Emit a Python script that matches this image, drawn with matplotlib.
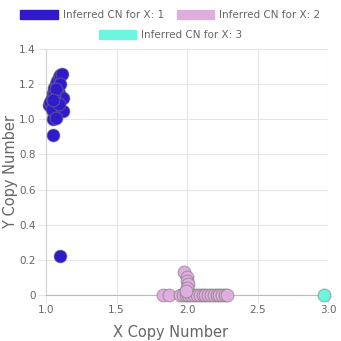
import matplotlib.pyplot as plt
from matplotlib.patches import Patch
from matplotlib.ticker import FuncFormatter

# copy-number calls, grouped by inferred CN for X
cn1_x = [1.02, 1.03, 1.04, 1.05, 1.06, 1.07, 1.08, 1.09, 1.10, 1.11,
         1.05, 1.06, 1.07, 1.08, 1.06, 1.05, 1.07, 1.04, 1.09, 1.08,
         1.10, 1.12, 1.12, 1.06, 1.07, 1.09, 1.05, 1.07, 1.05, 1.10]
cn1_y = [1.08, 1.10, 1.12, 1.15, 1.18, 1.20, 1.22, 1.24, 1.25, 1.26,
         1.05, 1.07, 1.10, 1.13, 1.02, 1.00, 1.04, 1.06, 1.15, 1.18,
         1.20, 1.12, 1.05, 1.14, 1.17, 1.09, 1.11, 1.01, 0.91, 0.22]

cn2_x = [1.83, 1.87, 1.95, 1.97, 1.99, 2.01, 2.03, 2.05, 2.07, 2.09,
         2.11, 2.13, 2.15, 2.17, 2.19, 2.21, 2.23, 2.25, 2.27, 2.28,
         1.98, 2.00, 2.00, 2.01, 2.00, 1.99]
cn2_y = [0, 0, 0, 0, 0, 0, 0, 0, 0, 0,
         0, 0, 0, 0, 0, 0, 0, 0, 0, 0,
         0.13, 0.10, 0.08, 0.06, 0.04, 0.02]

cn3_x = [2.97]
cn3_y = [0]

labels = ['Inferred CN for X: 1', 'Inferred CN for X: 2', 'Inferred CN for X: 3']
colors = ['#2f1bcc', '#e0aede', '#6cf6e0']

txt = '#666666'
grid = '#e5e5e5'

fig = plt.figure(figsize=(3.41, 3.41), dpi=100)
ax = fig.add_axes([0.135, 0.135, 0.827, 0.721])

for xs, ys, c in zip([cn1_x, cn2_x, cn3_x], [cn1_y, cn2_y, cn3_y], colors):
    ax.scatter(xs, ys, s=85, color=c, edgecolors=(0.45, 0.45, 0.45, 0.55),
               linewidths=0.8, clip_on=False, zorder=3)

ax.set_xlim(1.0, 3.0)
ax.set_ylim(0, 1.4)
ax.set_xticks([1.0, 1.5, 2.0, 2.5, 3.0])
ax.set_yticks([0, 0.2, 0.4, 0.6, 0.8, 1.0, 1.2, 1.4])
ax.yaxis.set_major_formatter(FuncFormatter(lambda v, p: '0' if v == 0 else '%.1f' % v))
ax.grid(True, color=grid, linewidth=0.8)
ax.set_axisbelow(True)
for s in ['top', 'right']:
    ax.spines[s].set_visible(False)
ax.spines['left'].set_color('#d0d0d0')
ax.spines['bottom'].set_color('#bbbbbb')
ax.tick_params(colors=grid, labelcolor=txt, labelsize=7.5, length=6, width=0.8, pad=1.5)

# axis titles placed in figure coords
fig.text(0.5, 0.025, 'X Copy Number', color=txt, fontsize=10.5,
         ha='center', va='center')
fig.text(0.032, 0.496, 'Y Copy Number', color=txt, fontsize=10.5,
         ha='center', va='center', rotation=90)

handles = [Patch(facecolor=c, edgecolor=c) for c in colors]
fig.legend(handles[:2], labels[:2], loc='center', bbox_to_anchor=(0.5, 0.955),
           ncol=2, frameon=False, fontsize=7.5, labelcolor=txt,
           handlelength=3.6, handleheight=0.9, handletextpad=0.5, columnspacing=1.2)
fig.legend(handles[2:], labels[2:], loc='center', bbox_to_anchor=(0.5, 0.897),
           ncol=1, frameon=False, fontsize=7.5, labelcolor=txt,
           handlelength=3.6, handleheight=0.9, handletextpad=0.5)

fig.savefig('out.png', dpi=100)
